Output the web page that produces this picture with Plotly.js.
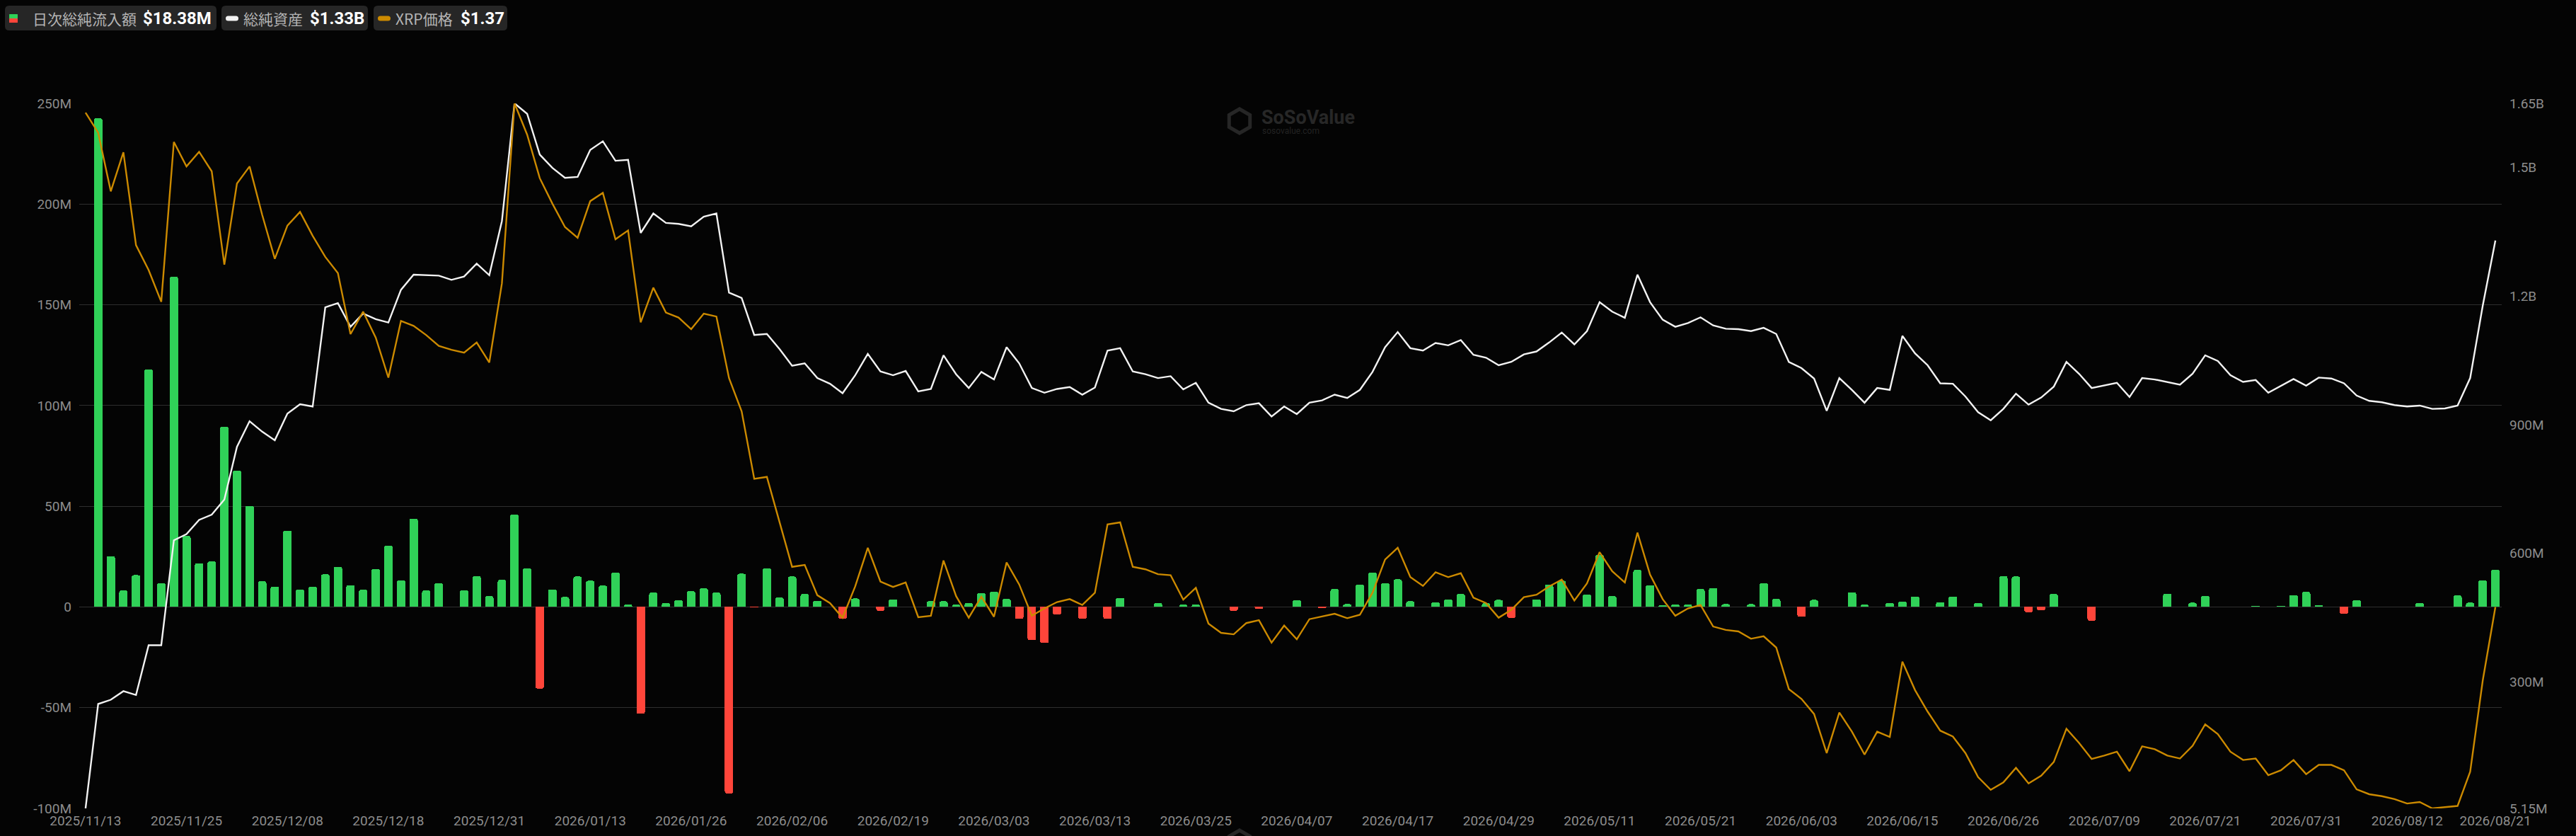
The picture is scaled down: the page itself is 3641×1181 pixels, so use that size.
<!DOCTYPE html>
<html>
<head>
<meta charset="utf-8">
<script src="https://cdn.plot.ly/plotly-3.0.1.min.js"></script>
<style>
html,body{margin:0;padding:0;background:#040404;}
#chart{width:3641px;height:1181px;}
</style>
</head>
<body>
<div id="chart"></div>
<script>
// ---- data ----
const tickLabels = ['2025/11/13','2025/11/25','2025/12/08','2025/12/18','2025/12/31','2026/01/13','2026/01/26','2026/02/06','2026/02/19','2026/03/03','2026/03/13','2026/03/25','2026/04/07','2026/04/17','2026/04/29','2026/05/11','2026/05/21','2026/06/03','2026/06/15','2026/06/26','2026/07/09','2026/07/21','2026/07/31','2026/08/12','2026/08/21'];
const tickIndex = [0,8,16,24,32,40,48,56,64,72,80,88,96,104,112,120,128,136,144,152,160,168,176,184,191];

// daily total net inflow, million USD
const dailyFlow = [
0,242.6,25.2,8.2,15.8,118.0,11.8,163.9,35.3,21.7,22.6,89.5,67.6,50.2,12.7,10.1,37.9,8.7,10.1,16.2,
20.0,10.8,8.5,18.8,30.4,13.2,43.8,8.2,11.8,0,8.2,15.3,5.4,13.4,45.9,19.1,-40.5,8.7,4.9,15.1,
13.0,10.6,17.0,1.2,-53.0,7.1,1.9,3.3,7.8,9.2,7.1,-92.6,16.5,-0.3,19.3,4.7,15.1,6.4,3.1,0,
-5.9,4.2,0,-1.9,3.8,0,0,2.8,2.8,1.2,1.9,6.8,7.5,4.0,-5.9,-16.5,-17.9,-3.8,0,-5.9,
0,-5.9,4.5,0,0,1.9,0,1.2,1.2,0,0,-1.9,0,-0.9,0.2,0,3.3,0,-0.5,8.9,
1.4,11.1,17.0,11.8,13.7,2.8,0,2.4,3.8,6.4,0,1.9,3.5,-5.4,0,3.8,11.1,13.0,0,6.1,
25.9,5.4,0,18.4,10.8,0.7,1.2,1.2,8.9,9.4,1.4,0,1.4,11.8,4.0,0,-4.9,3.5,0,0,
7.3,1.2,0,1.9,2.6,5.2,0,2.4,5.2,0,1.9,0,15.3,15.1,-2.6,-1.6,6.4,0,0,-6.8,
0,0.1,0,0,0,6.6,0,2.1,5.4,0,0,0,0.5,0,0.5,5.9,7.5,0.9,0,-3.5,
3.3,0,0,0,0,1.9,0,0,5.7,2.1,13.2,18.38];

// total net assets, million USD
const netAssets = [
5.15,248.7,258.6,278.6,269.7,385.9,385.9,630.6,645.0,678.2,690.3,725.7,848.6,908.4,884.0,864.1,926.1,948.2,942.7,1174.0,
1184.0,1128.7,1159.7,1146.4,1138.6,1215.0,1250.4,1249.3,1248.0,1238.2,1246.0,1276.0,1249.0,1375.5,1650.0,1625.6,1530.4,1499.5,1476.2,1478.4,
1541.5,1561.5,1516.1,1518.3,1347.8,1393.2,1371.0,1368.9,1363.3,1385.5,1393.2,1208.4,1196.2,1109.8,1112.0,1077.0,1037.9,1043.4,1009.1,995.8,
973.7,1015.7,1065.6,1024.6,1015.7,1025.7,978.1,983.7,1062.2,1018.0,985.9,1023.5,1005.8,1081.1,1043.4,985.9,974.8,983.7,988.1,970.4,
987.0,1073.3,1078.9,1024.6,1018.0,1009.1,1013.5,982.6,998.0,951.6,937.2,931.6,946.0,950.4,919.5,942.7,925.0,951.6,957.1,970.4,
962.6,981.5,1023.5,1081.1,1116.5,1078.9,1073.3,1091.0,1085.5,1097.7,1063.3,1056.7,1039.0,1046.8,1064.4,1071.1,1092.1,1115.4,1087.7,1118.7,
1186.2,1164.1,1149.7,1250.4,1186.2,1145.3,1128.7,1137.5,1150.8,1132.0,1124.2,1123.1,1118.7,1126.4,1112.0,1046.8,1032.4,1008.0,932.7,1009.1,
981.5,951.6,985.9,981.5,1107.6,1066.7,1039.0,996.9,995.8,965.9,929.4,910.6,937.2,972.6,947.1,963.7,989.2,1046.8,1019.1,985.9,
991.4,998.0,964.8,1009.1,1005.8,999.1,993.6,1019.1,1062.2,1049.0,1015.7,1000.2,1004.6,974.8,991.4,1006.9,991.4,1010.2,1008.0,996.9,
968.2,956.0,952.7,946.0,942.7,944.9,937.2,938.3,944.9,1009.1,1178.5,1330.0];

// XRP price, USD
const xrpPrice = [
2.381,2.340,2.220,2.300,2.110,2.059,1.994,2.321,2.271,2.301,2.261,2.070,2.236,2.271,2.172,2.082,2.150,2.178,2.129,2.086,
2.053,1.928,1.974,1.921,1.839,1.955,1.945,1.926,1.904,1.896,1.890,1.911,1.870,2.032,2.400,2.336,2.247,2.195,2.147,2.125,
2.200,2.217,2.122,2.140,1.952,2.023,1.972,1.962,1.938,1.970,1.964,1.838,1.770,1.632,1.636,1.545,1.452,1.456,1.394,1.378,
1.348,1.412,1.491,1.422,1.411,1.420,1.349,1.352,1.465,1.392,1.348,1.391,1.350,1.461,1.416,1.352,1.367,1.380,1.386,1.374,
1.399,1.539,1.543,1.452,1.447,1.437,1.435,1.385,1.409,1.336,1.317,1.314,1.337,1.343,1.297,1.332,1.304,1.345,1.350,1.356,
1.347,1.354,1.399,1.467,1.491,1.431,1.413,1.441,1.431,1.439,1.389,1.378,1.348,1.364,1.390,1.395,1.412,1.426,1.383,1.418,
1.482,1.443,1.420,1.522,1.436,1.386,1.352,1.367,1.374,1.330,1.323,1.320,1.305,1.310,1.287,1.202,1.182,1.151,1.071,1.154,
1.115,1.068,1.115,1.104,1.258,1.200,1.156,1.117,1.105,1.071,1.022,0.996,1.011,1.041,1.009,1.025,1.053,1.121,1.092,1.059,
1.066,1.074,1.034,1.085,1.079,1.066,1.060,1.086,1.130,1.110,1.074,1.057,1.060,1.026,1.036,1.057,1.028,1.047,1.047,1.036,
0.997,0.987,0.983,0.977,0.968,0.971,0.958,0.961,0.963,1.033,1.220,1.370];

const leftTicks = [-100,-50,0,50,100,150,200,250];
const leftTickText = ['-100M','-50M','0','50M','100M','150M','200M','250M'];
const rightTickText = ['5.15M','300M','600M','900M','1.2B','1.5B','1.65B'];
const rightTickVals = [5.15,300,600,900,1200,1500,1650];

const legendItems = [
  {label:'日次総純流入額', value:'$18.38M'},
  {label:'総純資産', value:'$1.33B'},
  {label:'XRP価格', value:'$1.37'}
];

// ---- styling ----
const GREEN = '#30d158', RED = '#ff453a', ORANGE = '#cc8a00', WHITE = '#f2f2f2';
const GRID = '#2e2e2e', TICK = '#8c8c8c';
const FONT = 'Roboto, "Noto Sans", sans-serif';
const CJK = '"Noto Sans CJK JP", "Noto Sans", sans-serif';

const idx = dailyFlow.map((_, i) => i);
const barColors = dailyFlow.map(v => v >= 0 ? GREEN : RED);

const ML = 112, MR = 105, MT = 146, MB = 39, WIDTH = 3641, HEIGHT = 1181;
const PW = WIDTH - ML - MR, PH = HEIGHT - MT - MB, PB = HEIGHT - MB;
const X = px => (px - ML) / PW;
const Y = py => (PB - py) / PH;

function roundRect(x0, y0, x1, y1, r) {
  const p = (a, b) => X(a).toFixed(6) + ',' + Y(b).toFixed(6);
  return 'M' + p(x0 + r, y0) + ' L' + p(x1 - r, y0) + ' Q' + p(x1, y0) + ' ' + p(x1, y0 + r) +
    ' L' + p(x1, y1 - r) + ' Q' + p(x1, y1) + ' ' + p(x1 - r, y1) +
    ' L' + p(x0 + r, y1) + ' Q' + p(x0, y1) + ' ' + p(x0, y1 - r) +
    ' L' + p(x0, y0 + r) + ' Q' + p(x0, y0) + ' ' + p(x0 + r, y0) + ' Z';
}

const shapes = [];
const annotations = [];
// legend boxes
const boxes = [[7, 306], [313, 520], [528, 717]];
boxes.forEach(b => shapes.push({type:'path', xref:'paper', yref:'paper', path: roundRect(b[0], 8, b[1], 43, 6), fillcolor:'#262626', line:{width:0}, layer:'above'}));
// icons
shapes.push({type:'path', xref:'paper', yref:'paper', path: roundRect(13, 20, 25, 26.2, 0.5), fillcolor:GREEN, line:{width:0}, layer:'above'});
shapes.push({type:'path', xref:'paper', yref:'paper', path: roundRect(13, 26, 25, 32, 0.5), fillcolor:RED, line:{width:0}, layer:'above'});
shapes.push({type:'path', xref:'paper', yref:'paper', path: roundRect(319, 22.5, 337, 29.5, 3.5), fillcolor:WHITE, line:{width:0}, layer:'above'});
shapes.push({type:'path', xref:'paper', yref:'paper', path: roundRect(534, 22.5, 552, 29.5, 3.5), fillcolor:ORANGE, line:{width:0}, layer:'above'});

const labelX = [44, 342, 557];
const valueX = [200, 436, 649];
legendItems.forEach((it, k) => {
  annotations.push({xref:'paper', yref:'paper', x:X(labelX[k]), y:Y(26), xanchor:'left', yanchor:'middle', showarrow:false,
    text: it.label, font:{family:CJK, size:21, color:'#b4b4b4'}});
  annotations.push({xref:'paper', yref:'paper', x:X(valueX[k]), y:Y(26), xanchor:'left', yanchor:'middle', showarrow:false,
    text: '<b>' + it.value + '</b>', font:{family:FONT, size:24, color:'#ffffff'}});
});

// watermark (top, plus the cut-off logo edge at the bottom)
[0, 1019].forEach(dy => {
  const hx = 1752, hy = 171 + dy, rr = 17;
  let hp = '';
  for (let k = 0; k < 6; k++) {
    const a = Math.PI / 6 + k * Math.PI / 3;
    const px = hx + rr * Math.cos(a), py = hy + rr * Math.sin(a);
    hp += (k === 0 ? 'M' : ' L') + X(px).toFixed(6) + ',' + Y(py).toFixed(6);
  }
  shapes.push({type:'path', xref:'paper', yref:'paper', path: hp + ' Z', fillcolor:'rgba(0,0,0,0)', line:{color:'#262626', width:5}, layer:'below'});
});
annotations.push({xref:'paper', yref:'paper', x:X(1781), y:Y(166), xanchor:'left', yanchor:'middle', showarrow:false,
  text:'<b>SoSoValue</b>', font:{family:FONT, size:27, color:'#272727'}});
annotations.push({xref:'paper', yref:'paper', x:X(1782), y:Y(185), xanchor:'left', yanchor:'middle', showarrow:false,
  text:'sosovalue.com', font:{family:FONT, size:12, color:'#232323'}});

const traces = [
  {type:'bar', x: idx, y: dailyFlow, marker:{color: barColors, cornerradius: 3, line:{width:0}}, width: 0.67,
   yaxis:'y', hoverinfo:'y', name:'日次総純流入額'},
  {type:'scatter', mode:'lines', x: idx, y: netAssets, line:{color: WHITE, width: 2.4}, yaxis:'y2', name:'総純資産'},
  {type:'scatter', mode:'lines', x: idx, y: xrpPrice, line:{color: ORANGE, width: 2.4}, yaxis:'y3', name:'XRP価格'}
];

const layout = {
  width: WIDTH, height: HEIGHT,
  paper_bgcolor: '#040404', plot_bgcolor: '#040404',
  margin: {l: ML, r: MR, t: MT, b: MB, pad: 0},
  showlegend: false,
  bargap: 0,
  font: {family: FONT, color: TICK},
  xaxis: {range: [-0.5, 191.5], tickmode:'array', tickvals: tickIndex, ticktext: tickLabels,
    showgrid:false, zeroline:false, showline:false, ticks:'', tickfont:{family:FONT, size:19, color:TICK}, ticklabelstandoff: 4},
  yaxis: {range: [-100, 250], tickmode:'array', tickvals: leftTicks, ticktext: leftTickText,
    showgrid:true, gridcolor: GRID, gridwidth: 1, zeroline:false, showline:false, ticks:'',
    tickfont:{family:FONT, size:19, color:TICK}, ticklabelstandoff: 10},
  yaxis2: {overlaying:'y', side:'right', range: [Math.min(...netAssets), Math.max(...netAssets)], tickmode:'array',
    tickvals: rightTickVals, ticktext: rightTickText, showgrid:false, zeroline:false, showline:false, ticks:'',
    tickfont:{family:FONT, size:19, color:TICK}, ticklabelstandoff: 10},
  yaxis3: {overlaying:'y', side:'right', range: [Math.min(...xrpPrice), Math.max(...xrpPrice)], visible:false},
  shapes: shapes,
  annotations: annotations
};

Plotly.newPlot('chart', traces, layout, {displayModeBar:false, staticPlot:true});
</script>
</body>
</html>
